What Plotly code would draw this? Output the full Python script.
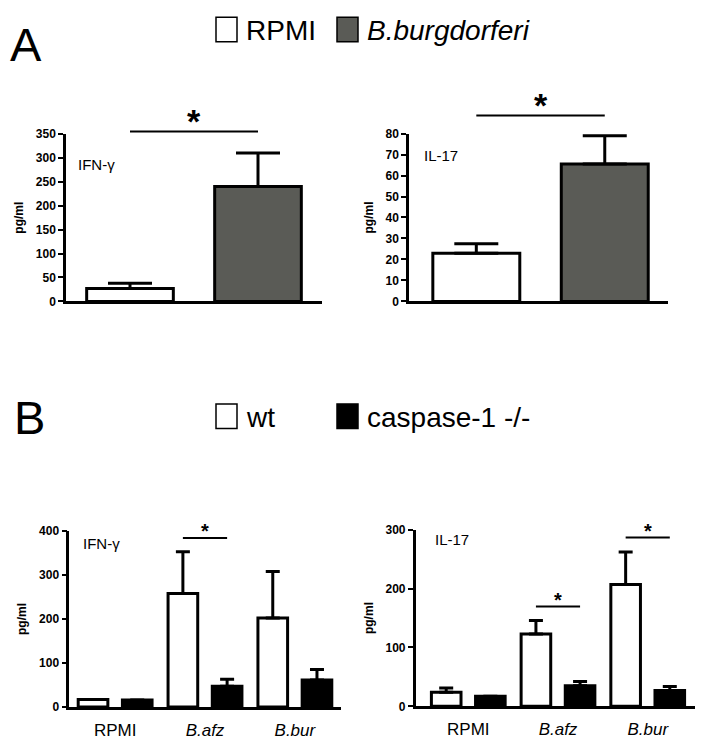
import plotly.graph_objects as go

W, H = 704, 747

# ---------------- data ----------------
top_groups = ["RPMI", "B.burgdorferi"]
ifn_top_mean = [27, 240]
ifn_top_err = [11, 70]
il17_top_mean = [23, 65.5]
il17_top_err = [4.5, 13.5]

bottom_cats = ["RPMI", "B.afz", "B.bur"]
bottom_ticktext = ["RPMI", "<i>B.afz</i>", "<i>B.bur</i>"]
ifn_wt_mean = [17, 258, 202]
ifn_wt_err = [0, 95, 106]
ifn_casp_mean = [16, 47, 61]
ifn_casp_err = [0, 16, 24]
il17_wt_mean = [24, 123, 207]
il17_wt_err = [7, 23, 55]
il17_casp_mean = [17, 35, 27]
il17_casp_err = [0, 7, 6.5]

top_colors = ["white", "#5a5b56"]
FONT = "Liberation Sans, Arial, Helvetica, sans-serif"


def px(x, y):
    return x / W, 1 - y / H


def sfx(k):
    return "" if k == 1 else str(k)


fig = go.Figure()

# domains (pixel extents of each plot area)
dom = {
    1: dict(x=(66, 322), y=(129.3, 300)),
    2: dict(x=(409, 667.7), y=(129, 300)),
    3: dict(x=(69.3, 340.7), y=(534, 713.3)),
    4: dict(x=(415.7, 695), y=(532.7, 712.7)),
}
yranges = {1: (0, 350, 50), 2: (0, 80, 10), 3: (0, 400, 100), 4: (0, 300, 100)}
xranges = {1: (-0.5, 1.5), 2: (-0.524, 1.49), 3: (-0.51, 2.51), 4: (-0.586, 2.527)}


def err(arr, w):
    return dict(type="data", array=arr, arrayminus=[0] * len(arr), symmetric=False,
                color="black", thickness=3, width=w, visible=True)


# top panels
for k, (m, e) in {1: (ifn_top_mean, ifn_top_err), 2: (il17_top_mean, il17_top_err)}.items():
    fig.add_trace(go.Bar(
        x=[0, 1], y=m, width=0.677,
        marker=dict(color=top_colors, line=dict(color="black", width=3)),
        error_y=err(e, 22), xaxis=f"x{sfx(k)}", yaxis=f"y{sfx(k)}", showlegend=False,
        customdata=top_groups, hovertemplate="%{customdata}: %{y}<extra></extra>"))

# bottom panels
bw = 0.33
off = 0.246
for k, (wm, we, cm, ce) in {3: (ifn_wt_mean, ifn_wt_err, ifn_casp_mean, ifn_casp_err),
                            4: (il17_wt_mean, il17_wt_err, il17_casp_mean, il17_casp_err)}.items():
    fig.add_trace(go.Bar(
        x=[0, 1, 2], y=wm, width=bw, offset=-off - bw / 2, name="wt",
        marker=dict(color="white", line=dict(color="black", width=3)),
        error_y=err(we, 7), xaxis=f"x{sfx(k)}", yaxis=f"y{sfx(k)}", showlegend=False))
    fig.add_trace(go.Bar(
        x=[0, 1, 2], y=cm, width=bw, offset=off - bw / 2, name="caspase-1 -/-",
        marker=dict(color="black", line=dict(color="black", width=3)),
        error_y=err(ce, 7), xaxis=f"x{sfx(k)}", yaxis=f"y{sfx(k)}", showlegend=False))

layout = dict(
    width=W, height=H, margin=dict(l=0, r=0, t=0, b=0),
    paper_bgcolor="white", plot_bgcolor="white",
    font=dict(family=FONT, color="black"),
    barmode="group", showlegend=False,
)
for k in range(1, 5):
    d = dom[k]
    xd = (d["x"][0] / W, d["x"][1] / W)
    yd = (1 - d["y"][1] / H, 1 - d["y"][0] / H)
    xa = dict(domain=xd, range=list(xranges[k]), showline=True, linecolor="black", linewidth=2.5,
              showgrid=False, zeroline=False, anchor=f"y{sfx(k)}", fixedrange=True)
    if k <= 2:
        xa.update(showticklabels=False, ticks="")
    else:
        xa.update(tickmode="array", tickvals=[0, 1, 2], ticktext=bottom_ticktext,
                  ticks="outside", ticklen=6, tickcolor="rgba(0,0,0,0)",
                  tickfont=dict(size=17, family=FONT))
    y0, y1, dt = yranges[k]
    ya = dict(domain=yd, range=[y0, y1], dtick=dt, tick0=0, showline=True, linecolor="black",
              linewidth=2.5, showgrid=False, zeroline=False, ticks="outside", ticklen=5,
              tickwidth=2, tickcolor="black", anchor=f"x{sfx(k)}", fixedrange=True,
              tickfont=dict(size=12, family=FONT, weight="bold"),
              title=dict(text="pg/ml", font=dict(size=12, family=FONT, weight="bold"), standoff=10))
    layout[f"xaxis{sfx(k)}"] = xa
    layout[f"yaxis{sfx(k)}"] = ya
fig.update_layout(**layout)

# significance bars: (subplot, x0, x1, y value, star size)
sig = [
    (1, 0, 1, 355, 34),
    (2, 0, 1, 88.6, 34),
    (3, 1 - off, 1 + off, 384, 20),
    (4, 1 - off, 1 + off, 169.5, 20),
    (4, 2 - off, 2 + off, 286.7, 20),
]
for k, a, b, yv, fs in sig:
    yf = yv / yranges[k][1]
    fig.add_shape(type="line", xref=f"x{sfx(k)}", yref=f"y{sfx(k)} domain", x0=a, x1=b, y0=yf, y1=yf,
                  line=dict(color="black", width=2))
    fig.add_annotation(xref=f"x{sfx(k)}", yref=f"y{sfx(k)} domain", x=(a + b) / 2, y=yf, text="<b>*</b>",
                       showarrow=False, yanchor="bottom", yshift=-fs * 0.3,
                       font=dict(size=fs, family=FONT))

# cytokine labels
for (x, y, t) in [(76, 161, "IFN-γ"), (421.7, 151, "IL-17"), (80.7, 546.7, "IFN-γ"), (433.3, 543, "IL-17")]:
    xx, yy = px(x, y)
    fig.add_annotation(xref="paper", yref="paper", x=xx, y=yy, text=t, showarrow=False,
                       xanchor="left", yanchor="middle", font=dict(size=15, family=FONT))

# panel letters
for (x, y, t) in [(8, 38, "A"), (12, 418, "B")]:
    xx, yy = px(x, y)
    fig.add_annotation(xref="paper", yref="paper", x=xx, y=yy, text=t, showarrow=False,
                       xanchor="left", yanchor="middle", font=dict(size=47, family=FONT))

# legends (drawn manually)
legends = [
    (23, [("white", "RPMI", False), (top_colors[1], "B.burgdorferi", True)]),
    (417, [("white", "wt", False), ("black", "caspase-1 -/-", False)]),
]
for yc, items in legends:
    for i, (col, lab, ital) in enumerate(items):
        bx = 216 + i * 121
        x0, y0 = px(bx, yc - 12.5)
        x1, y1 = px(bx + 21, yc + 12.5)
        fig.add_shape(type="rect", xref="paper", yref="paper", x0=x0, x1=x1, y0=y0, y1=y1,
                      fillcolor=col, line=dict(color="black", width=1.5))
        tx, ty = px(bx + 28, yc + 1)
        fig.add_annotation(xref="paper", yref="paper", x=tx, y=ty,
                           text=f"<i>{lab}</i>" if ital else lab, showarrow=False,
                           xanchor="left", yanchor="middle", font=dict(size=28, family=FONT))

fig.write_html("out.html", config={"displayModeBar": False},
               post_script="document.body.style.margin='0';")
